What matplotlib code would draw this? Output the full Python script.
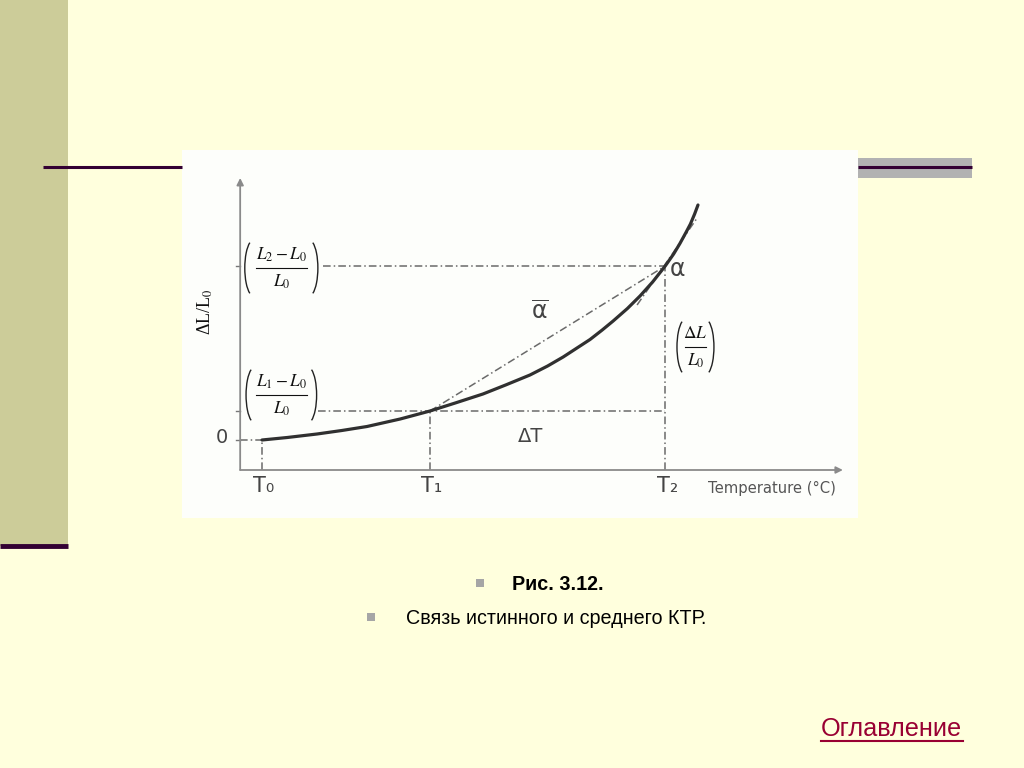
import matplotlib.pyplot as plt
from matplotlib.patches import Arc

# --- data (arbitrary units) ---
temp = [0.0, 0.6, 1.31, 1.9, 2.5, 3.29, 4.0, 4.6, 5.26, 5.8, 6.38, 6.8, 7.17,
        7.81, 8.1, 8.36, 8.7, 9.0, 9.3, 9.6, 9.8, 9.95, 10.1, 10.2, 10.3, 10.38]
strain = [0.0, 0.05, 0.12, 0.19, 0.27, 0.42, 0.58, 0.74, 0.92, 1.10, 1.30, 1.48, 1.66,
          2.01, 2.20, 2.38, 2.63, 2.88, 3.16, 3.48, 3.72, 3.93, 4.16, 4.32, 4.52, 4.70]

T0, T1, T2 = 0.0, 4.0, 9.6
eps1, eps2 = 0.58, 3.48
tangent_T = [8.93, 10.36]
tangent_eps = [2.70, 4.44]

t_labels = ["T\u2080", "T\u2081", "T\u2082"]
caption_title = "Рис. 3.12."
caption_text = "Связь истинного и среднего КТР."
link_text = "Оглавление"

# axis origin / arrow ends in data units
x_org, y_org = -0.52, -0.6
x_end, y_end = 13.83, 5.24

bg_col = "#FFFFDD"
dark = "#330033"
gray_line = "#6A6A6A"

fig = plt.figure(figsize=(10.24, 7.68), dpi=100)
fig.patch.set_facecolor(bg_col)

# slide decoration, pixel coordinates
bg = fig.add_axes([0, 0, 1, 1])
bg.set_xlim(0, 1024)
bg.set_ylim(768, 0)
bg.axis("off")
bg.add_patch(plt.Rectangle((0, 0), 68, 546, color="#CCCC99", lw=0))
bg.plot([0, 68], [546, 546], color=dark, lw=3.5, solid_capstyle="butt")
bg.plot([43, 182], [167, 167], color=dark, lw=2.2, solid_capstyle="butt")
bg.add_patch(plt.Rectangle((858, 158), 114, 20, color="#B2B2B2", lw=0))
bg.plot([858, 972], [167, 167], color=dark, lw=2.2, solid_capstyle="butt")
bg.add_patch(plt.Rectangle((182, 150), 676, 368, color="#FDFEFB", lw=0))

# caption
bg.add_patch(plt.Rectangle((476, 579), 8, 8, color="#A6A6A6", lw=0))
bg.add_patch(plt.Rectangle((367, 613), 8, 8, color="#A6A6A6", lw=0))
bg.text(512, 584, caption_title, fontsize=14.2, fontweight="bold",
        family="Liberation Sans", va="center", ha="left", color="black")
bg.text(406, 618, caption_text, fontsize=14.2, family="Liberation Sans",
        va="center", ha="left", color="black")
bg.text(821, 729, link_text, fontsize=18.2, family="Liberation Sans",
        va="center", ha="left", color="#990033")
bg.plot([821, 963], [741, 741], color="#990033", lw=1.5)

# chart
ax = fig.add_axes([182 / 1024, 1 - 518 / 768, 676 / 1024, 368 / 768])
ax.set_xlim(-1.905, 14.19)
ax.set_ylim(-1.56, 5.8)
ax.axis("off")

arrow = dict(arrowstyle="-|>", color="#8A8A8A", lw=1.3, mutation_scale=10,
             shrinkA=0, shrinkB=0)
ax.annotate("", xy=(x_end, y_org), xytext=(x_org, y_org), arrowprops=arrow)
ax.annotate("", xy=(x_org, y_end), xytext=(x_org, y_org), arrowprops=arrow)

dd = (0, (5, 2, 1, 2))
ax.plot([x_org, T0], [0, 0], color=gray_line, lw=1.1, ls=dd)
ax.plot([1.33, T2], [eps1, eps1], color=gray_line, lw=1.1, ls=dd)
ax.plot([1.45, T2], [eps2, eps2], color=gray_line, lw=1.1, ls=dd)
for t, top in [(T0, 0), (T1, eps1), (T2, eps2)]:
    ax.plot([t, t], [y_org, top], color=gray_line, lw=1.1, ls=dd)
ax.plot([T1, T2], [eps1, eps2], color=gray_line, lw=1.1, ls=dd)
ax.plot(tangent_T, tangent_eps, color=gray_line, lw=1.1, ls=dd)
for lev in [0, eps1, eps2]:
    ax.plot([x_org - 0.1, x_org], [lev, lev], color="#777777", lw=1)

ax.plot(temp, strain, color="#303030", lw=2.3, solid_capstyle="round",
        solid_joinstyle="round")

txt_col = "#444444"
ax.text(-0.95, 0.05, "0", fontsize=14, color=txt_col, ha="center", va="center")
for t, lab in zip([T0, T1, T2], t_labels):
    ax.text(t + 0.05, -0.92, lab, fontsize=15, color=txt_col, ha="center", va="center")
ax.text(12.14, -0.97, "Temperature (°C)", fontsize=10.6, color="#555555",
        ha="center", va="center")
ax.text(6.4, 0.06, "ΔT", fontsize=14, color=txt_col, ha="center", va="center")
ax.text(6.62, 2.56, r"$\overline{\mathrm{\alpha}}$", fontsize=17, color=txt_col,
        ha="center", va="center", math_fontfamily="dejavusans")
ax.text(9.9, 3.42, "α", fontsize=17, color=txt_col, ha="center", va="center")


def fraction(x, y, num, den, width, span):
    # numerator / bar / denominator with tall thin parentheses
    kw = dict(fontsize=12.5, color="#111111", ha="center", va="center",
              math_fontfamily="stix")
    ax.text(x, y + 0.27, num, **kw)
    ax.text(x, y - 0.27, den, **kw)
    ax.plot([x - width / 2, x + width / 2], [y, y], color="#111111", lw=0.8)
    w, h = 0.42, 1.12
    ax.add_patch(Arc((x - span / 2 + w / 2, y), w, h, theta1=100, theta2=260,
                     color="#222222", lw=1.0))
    ax.add_patch(Arc((x + span / 2 - w / 2, y), w, h, theta1=-80, theta2=80,
                     color="#222222", lw=1.0))


fraction(0.46, 3.44, r"$L_2-L_0$", r"$L_0$", 1.2, 1.74)
fraction(0.46, 0.9, r"$L_1-L_0$", r"$L_0$", 1.2, 1.68)
fraction(10.32, 1.86, r"$\Delta L$", r"$L_0$", 0.5, 0.88)
ax.text(-1.36, 2.56, r"ΔL/L$_0$", fontsize=13, rotation=90, color="#111111",
        family="Liberation Serif", ha="center", va="center", math_fontfamily="stix")

fig.savefig("out.png", dpi=100, facecolor=fig.get_facecolor())
